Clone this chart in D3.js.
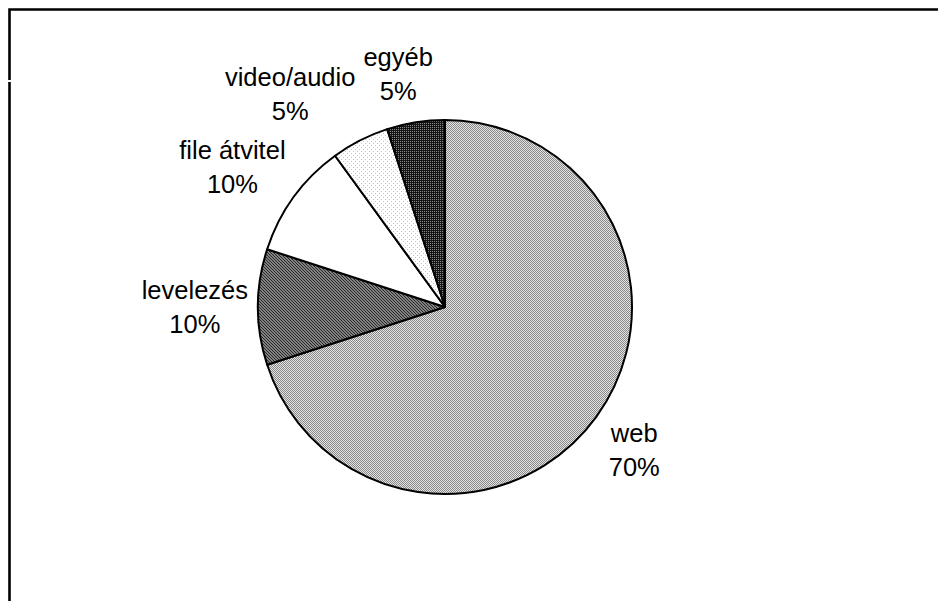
<!DOCTYPE html>
<html>
<head>
<meta charset="utf-8">
<script src="https://cdn.jsdelivr.net/npm/d3@7"></script>
<style>
  body { margin: 0; background: #fff; }
  text { font-family: "Liberation Sans", Arial, sans-serif; }
</style>
</head>
<body>
<div class="viewbox"></div>
<script>
// slices go clockwise from 12 o'clock, same order as the original
const categories = ["web", "levelezés", "file átvitel", "video/audio", "egyéb"];
const shares = [70, 10, 10, 5, 5];
const pctLabels = ["70%", "10%", "10%", "5%", "5%"];

const width = 938, height = 601;
const cx = 445, cy = 307, radius = 187;

let svg = d3.select(".viewbox")
  .append("svg")
  .attr("width", width)
  .attr("height", height);

// fill patterns, old b/w excel look
let defs = svg.append("defs");

let pWeb = defs.append("pattern").attr("id", "p-web")
  .attr("patternUnits", "userSpaceOnUse").attr("width", 2).attr("height", 2);
pWeb.append("rect").attr("width", 2).attr("height", 2).attr("fill", "#e4e4e4");
pWeb.append("rect").attr("width", 1).attr("height", 1).attr("fill", "#888");
pWeb.append("rect").attr("x", 1).attr("y", 1).attr("width", 1).attr("height", 1).attr("fill", "#888");

let pMail = defs.append("pattern").attr("id", "p-mail")
  .attr("patternUnits", "userSpaceOnUse").attr("width", 3).attr("height", 3);
pMail.append("rect").attr("width", 3).attr("height", 3).attr("fill", "#a8a8a8");
pMail.append("path").attr("d", "M0,0L3,3M-1,2L1,4M2,-1L4,1")
  .attr("stroke", "#222").attr("stroke-width", 1.1);

let pVideo = defs.append("pattern").attr("id", "p-video")
  .attr("patternUnits", "userSpaceOnUse").attr("width", 4).attr("height", 4);
pVideo.append("rect").attr("width", 4).attr("height", 4).attr("fill", "#fff");
pVideo.append("rect").attr("width", 1).attr("height", 1).attr("fill", "#c4c4c4");
pVideo.append("rect").attr("x", 2).attr("y", 2).attr("width", 1).attr("height", 1).attr("fill", "#c4c4c4");

let pOther = defs.append("pattern").attr("id", "p-other")
  .attr("patternUnits", "userSpaceOnUse").attr("width", 2).attr("height", 2);
pOther.append("rect").attr("width", 2).attr("height", 2).attr("fill", "#141414");
pOther.append("rect").attr("x", 1).attr("width", 1).attr("height", 1).attr("fill", "#8a8a8a");

const fills = d3.scaleOrdinal()
  .domain(categories)
  .range(["url(#p-web)", "url(#p-mail)", "#ffffff", "url(#p-video)", "url(#p-other)"]);

// frame (only top + left edges are visible in the screenshot)
svg.append("path")
  .attr("d", `M9.5,${height}V9.5H${width}`)
  .attr("fill", "none")
  .attr("stroke", "#000")
  .attr("stroke-width", 2.6);
svg.append("rect")
  .attr("x", 0).attr("y", 80).attr("width", 12).attr("height", 2)
  .attr("fill", "#fff");

let data = categories.map((c, i) => ({ cat: c, value: shares[i], pct: pctLabels[i] }));

let pie = d3.pie().value(d => d.value).sort(null);
let arc = d3.arc().innerRadius(0).outerRadius(radius);
let arcs = pie(data);

let g = svg.append("g").attr("transform", `translate(${cx},${cy})`);

g.selectAll(".slice")
  .data(arcs)
  .enter()
  .append("path")
  .attr("class", "slice")
  .attr("d", arc)
  .attr("fill", d => fills(d.data.cat))
  .attr("stroke", "#000")
  .attr("stroke-width", 2)
  .attr("stroke-linejoin", "round");

// labels sit just outside the rim; small nudges mimic excel's own shuffling
const gap = 14, lineH = 34, boxH = 52;
const nudge = {
  "web": [6, 10],
  "levelezés": [4, 0],
  "file átvitel": [-7, -6],
  "video/audio": [-34, -10],
  "egyéb": [-10, -8]
};

let labels = g.selectAll(".lbl")
  .data(arcs)
  .enter()
  .append("text")
  .attr("class", "lbl")
  .attr("text-anchor", "middle")
  .attr("font-size", 25.5)
  .attr("fill", "#000");

labels.append("tspan").attr("class", "l1").text(d => d.data.cat);
labels.append("tspan").attr("class", "l2").text(d => d.data.pct);

labels.each(function (d) {
  let t = d3.select(this);
  let w = Math.max(t.select(".l1").node().getComputedTextLength(),
                   t.select(".l2").node().getComputedTextLength());
  let a = (d.startAngle + d.endAngle) / 2;
  let s = Math.sin(a), c = -Math.cos(a);
  let px = (radius + gap) * s, py = (radius + gap) * c;
  let n = nudge[d.data.cat] || [0, 0];
  let x = px + s * w / 2 + n[0];
  let y = py + c * boxH / 2 + n[1];
  t.select(".l1").attr("x", x).attr("y", y - 8.5);
  t.select(".l2").attr("x", x).attr("y", y - 8.5 + lineH);
});
</script>
</body>
</html>
